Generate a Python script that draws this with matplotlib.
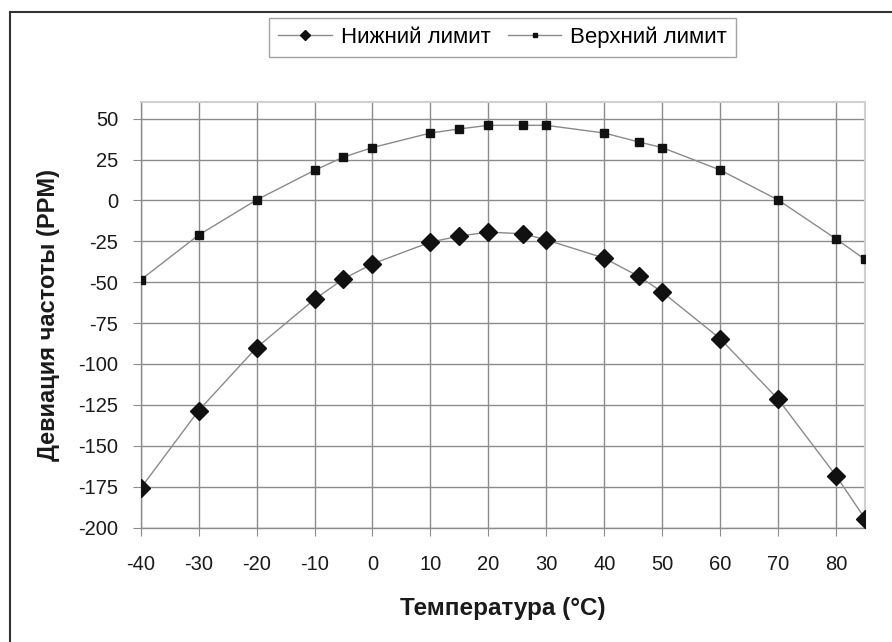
import matplotlib
matplotlib.use("Agg")
import matplotlib.pyplot as plt
from matplotlib.lines import Line2D

plt.rcParams['font.family'] = ['Liberation Sans', 'DejaVu Sans']
plt.rcParams['axes.unicode_minus'] = False

# temperature points (°C)
temps = [-40, -30, -20, -10, -5, 0, 10, 15, 20, 26, 30, 40, 46, 50, 60, 70, 80, 85]
# frequency deviation limits (PPM)
lower = [-176, -128.5, -90, -60.5, -48, -38.8, -25.5, -21.8, -19.4, -20.4, -24.1,
         -35.3, -46.5, -56, -84.5, -121.5, -168.3, -194.5]
upper = [-48.6, -21.2, 0.3, 18.4, 26.5, 32.3, 41.2, 43.7, 45.9, 45.9, 45.9,
         41.2, 35.7, 32.3, 18.6, 0.3, -23.5, -36.1]

x_ticks = list(range(-40, 81, 10))
y_ticks = list(range(-200, 51, 25))

fig = plt.figure(figsize=(8.92, 6.42), dpi=100)
ax = fig.add_axes([0.1577, 0.1783, 0.8120, 0.6624])

ax.plot(temps, lower, color='#8a8a8a', lw=1.0, marker='D', markersize=9,
        markerfacecolor='#111111', markeredgecolor='#111111', label='Нижний лимит', zorder=3)
ax.plot(temps, upper, color='#8a8a8a', lw=1.0, marker='s', markersize=5.5,
        markerfacecolor='#111111', markeredgecolor='#111111', label='Верхний лимит', zorder=3)

ax.set_xlim(-40, 85)
ax.set_ylim(-200, 60)
ax.set_xticks(x_ticks)
ax.set_yticks(y_ticks)
ax.grid(True, color='#8c8c8c', lw=1.0)
ax.set_axisbelow(True)

for side in ['top', 'right']:
    ax.spines[side].set_color('#d0d0d0')
    ax.spines[side].set_linewidth(1.5)
for side in ['left', 'bottom']:
    ax.spines[side].set_color('#8c8c8c')
    ax.spines[side].set_linewidth(1.0)

ax.tick_params(axis='y', length=6, color='#8c8c8c', pad=10, labelsize=14.5, labelcolor='#1a1a1a')
ax.tick_params(axis='x', length=6, color='#8c8c8c', pad=14, labelsize=14.5, labelcolor='#1a1a1a')

ax.set_xlabel('Температура (°C)', fontsize=17.5, fontweight='bold', labelpad=16, color='#1a1a1a')
ax.set_ylabel('Девиация частоты (PPM)', fontsize=17, fontweight='bold', labelpad=13, color='#1a1a1a')

leg = fig.legend(loc='upper center', bbox_to_anchor=(0.5635, 0.99), ncol=2, fontsize=16,
                 frameon=True, fancybox=False, edgecolor='#8c8c8c', markerscale=0.55,
                 handlelength=2.4, handletextpad=0.4, columnspacing=0.8, borderpad=0.4)
leg.get_frame().set_linewidth(1.0)

# outer frame (left and top edges)
fig.add_artist(Line2D([0.0109, 0.0109], [0, 0.982], transform=fig.transFigure, color='#333333', lw=1.5))
fig.add_artist(Line2D([0.0109, 1.0], [0.982, 0.982], transform=fig.transFigure, color='#333333', lw=1.5))

fig.savefig('out.png', dpi=100)
